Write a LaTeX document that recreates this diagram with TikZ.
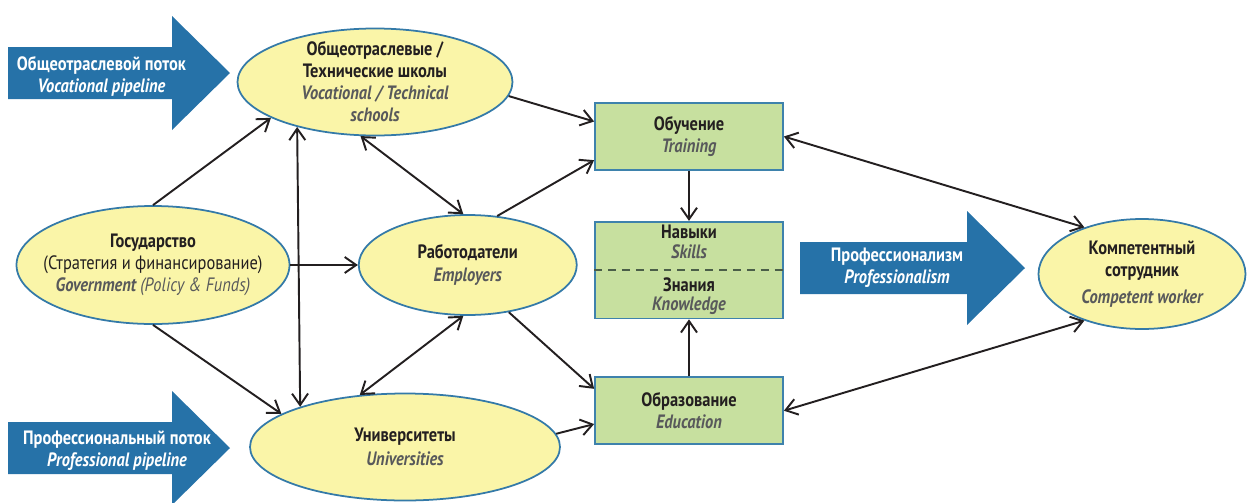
\documentclass[tikz,border=0pt]{standalone}
\usepackage{fontspec}
\setmainfont{PT Sans}[FakeStretch=0.85]
\usepackage{xcolor}
\usepackage{tikz}
\usetikzlibrary{shapes.geometric,arrows.meta,positioning,calc}
\definecolor{pipeblue}{RGB}{38,114,168}
\definecolor{ovalfill}{RGB}{250,245,168}
\definecolor{ovalline}{RGB}{52,122,168}
\definecolor{boxfill}{RGB}{199,224,159}
\definecolor{boxline}{RGB}{62,130,172}
\definecolor{inkdark}{RGB}{35,31,32}
\definecolor{inkgrey}{RGB}{88,89,91}
\definecolor{splitgrey}{RGB}{74,94,72}
\newcommand{\en}[1]{{\color{inkgrey}\itshape #1}}
\newcommand{\pipelinearrow}[2]{% tail point, shaft length
  \fill[pipelinefill] (#1) ++(0,0.52) -- ++(#2,0) -- ++(0,0.62) -- ++(1.16,-1.14)
    -- ++(-1.16,-1.14) -- ++(0,0.62) -- ++(-#2,0) -- cycle;}
\tikzset{
  actorellipse/.style={ellipse, draw=ovalline, fill=ovalfill, line width=1pt, align=center,
    font=\fontsize{11}{12.5}\selectfont\bfseries, text=inkdark, inner xsep=-1cm, inner ysep=-0.6cm},
  stagebox/.style={rectangle, draw=boxline, fill=boxfill, line width=1pt,
    minimum width=3.76cm, minimum height=1.34cm, align=center,
    font=\fontsize{11}{12.5}\selectfont\bfseries, text=inkdark, inner sep=2pt},
  pipelinefill/.style={fill=pipeblue},
  pipelinetext/.style={align=center, text=white, font=\fontsize{11}{12.5}\selectfont\bfseries},
  linkarrow/.style={-{Straight Barb[length=2.3mm,width=3.2mm]}, draw=inkdark, line width=1.1pt},
  bothwayarrow/.style={{Straight Barb[length=2.3mm,width=3.2mm]}-{Straight Barb[length=2.3mm,width=3.2mm]},
    draw=inkdark, line width=1.1pt},
  splitline/.style={draw=splitgrey, line width=1.1pt, dash pattern=on 4.5pt off 3.4pt},
}

\begin{document}
\begin{tikzpicture}
  \useasboundingbox (0,0) rectangle (24.96,-10.04);

  % Three big blue pipeline arrows
  \coordinate (vocpipe) at (0.16,-1.46);
  \coordinate (propipe) at (0.16,-8.96);
  \coordinate (comppipe) at (16.0,-5.36);
  \pipelinearrow{vocpipe}{3.28}
  \pipelinearrow{propipe}{3.28}
  \pipelinearrow{comppipe}{3.34}
  \node[pipelinetext] (vocpipetext) at ([xshift=1.87cm,yshift=-0.06cm]vocpipe) {Общеотраслевой поток\\\itshape Vocational pipeline};
  \node[pipelinetext] (propipetext) at ([xshift=2.18cm,yshift=-0.06cm]propipe) {Профессиональный поток\\\itshape Professional pipeline};
  \node[pipelinetext] (comppipetext) at ([xshift=1.94cm]comppipe) {Профессионализм\\\itshape Professionalism};

  % Actors (ellipses)
  \node[actorellipse, minimum width=5.5cm, minimum height=2.14cm] (voc) at (7.5,-1.64)
    {Общеотраслевые /\\Технические школы\\\en{Vocational / Technical}\\\en{schools}};
  \node[actorellipse, minimum width=5.46cm, minimum height=2.36cm] (gov) at (3.06,-5.3)
    {Государство\\{\mdseries(Стратегия и финансирование)}\\\en{Government {\mdseries(Policy \& Funds)}}};
  \node[actorellipse, minimum width=4.36cm, minimum height=2.0cm, right=1.35cm of gov] (emp)
    {Работодатели\\[1pt]\en{Employers}};
  \node[actorellipse, minimum width=6.2cm, minimum height=2.14cm] (uni) at (8.1,-8.94)
    {Университеты\\[1pt]\en{Universities}};
  \node[actorellipse, minimum width=4.14cm, minimum height=2.2cm] (comp) at (22.84,-5.48)
    {Компетентный\\сотрудник\\[3pt]\en{Competent worker}};

  % Training, skills / knowledge and education (green boxes)
  \node[stagebox] (train) at (13.78,-2.73) {Обучение\\\en{Training}};
  \node[stagebox, minimum height=1.92cm, below=1.0cm of train] (skill)
    {Навыки\\[-1.5pt]\en{Skills}\\[6.5pt]Знания\\[-1.5pt]\en{Knowledge}};
  \node[stagebox, below=1.14cm of skill] (edu) {Образование\\\en{Education}};
  \draw[splitline] (skill.west) -- (skill.east);

  % Connectors
  \draw[linkarrow] (gov.north) -- (voc.199);
  \draw[linkarrow] (gov.east) -- (emp.west);
  \draw[linkarrow] (gov.south) -- (uni.165);
  \draw[bothwayarrow] (voc.210) -- (uni.159);
  \draw[bothwayarrow] (voc.255) -- (emp.95);
  \draw[bothwayarrow] (emp.265) -- (uni.131);
  \draw[linkarrow] (voc.354) -- (train.171);
  \draw[linkarrow] (emp.59) -- (train.194);
  \draw[linkarrow] (emp.311) -- (edu.167);
  \draw[linkarrow] (uni.5) -- (edu.188);
  \draw[linkarrow] (train.south) -- (skill.north);
  \draw[linkarrow] (edu.north) -- (skill.south);
  \draw[bothwayarrow] (train.east) -- (comp.141);
  \draw[bothwayarrow] (edu.east) -- (comp.219);
\end{tikzpicture}
\end{document}
